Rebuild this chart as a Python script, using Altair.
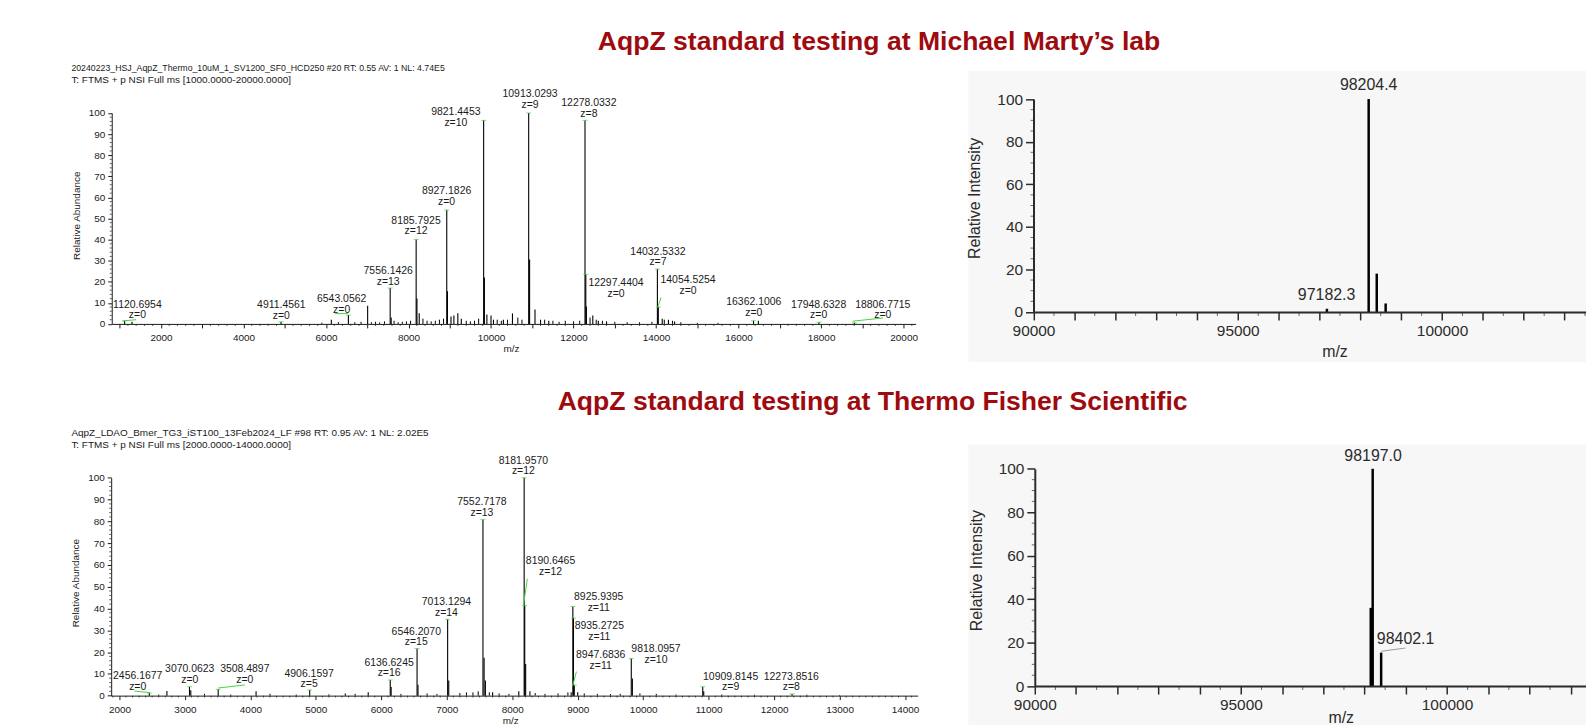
import altair as alt
import pandas as pd

FONT = "Liberation Sans"
RED = "#9e0b0f"
INK = "#1a1a1a"
GINK = "#2b2b2b"
GREEN = "#44d444"
PANEL_BG = "#f7f7f7"
W, H = 1586, 717
M = 8  # page margin

# ---------------- Top-left: native MS, Michael Marty's lab ----------------
tl_mz = [1120.7, 1300, 4911.5, 6130, 6543.1, 7010, 7556.1, 7580, 8185.8, 8205, 8260,
         8927.2, 8945, 9030, 9100, 9196, 9280, 9821.4, 9840, 9900, 10000, 10060, 10300,
         10520, 10913.0, 10935, 11066, 11200, 11400, 12278.0, 12297.4, 12312, 12467, 12600,
         12800, 14032.5, 14054.5, 14150, 14300, 14450, 16362.1, 16480, 17948.6, 18806.8]
tl_int = [1.5, 1.0, 1.0, 2.0, 4.2, 8.6, 17, 3, 40, 12, 5,
          54, 15.5, 3.5, 4, 5, 2.5, 96.5, 22, 4.5, 4, 2, 2,
          5, 100, 30.5, 6.8, 2, 1.5, 96.5, 23.5, 8.3, 4, 1.5,
          1.2, 26, 8, 2.5, 2, 1.2, 1.5, 1.5, 0.8, 0.5]
tl_noise_mz = [5900, 6300, 6700, 6850, 7100, 7200, 7300, 7420, 7650, 7750, 7850, 7950, 8050,
               8350, 8450, 8550, 8650, 8750, 8850, 9400, 9500, 9600, 9700, 10150, 10250,
               10400, 10650, 10750, 11300, 11500, 11650, 11800, 12000, 12150, 12400, 12550,
               12700, 13000, 13300, 13600, 13900, 14200, 14400, 14600, 15000, 15500]
tl_noise_int = [0.6, 0.8, 0.8, 1.0, 0.8, 1.0, 0.7, 1.2, 1.5, 0.8, 1.0, 1.2, 1.5,
                2.5, 1.5, 1.2, 1.5, 2.0, 2.5, 1.5, 1.2, 1.5, 2.5, 2.0, 1.5,
                2.0, 3.0, 2.0, 2.0, 1.5, 1.0, 1.5, 1.2, 1.5, 3.0, 2.0,
                1.5, 1.0, 0.8, 0.8, 1.0, 2.0, 1.5, 0.8, 0.5, 0.5]
tl_lab_num = ["1120.6954", "4911.4561", "6543.0562", "7556.1426", "8185.7925", "8927.1826",
              "9821.4453", "10913.0293", "12278.0332", "12297.4404", "14032.5332",
              "14054.5254", "16362.1006", "17948.6328", "18806.7715"]
tl_lab_z = ["z=0", "z=0", "z=0", "z=13", "z=12", "z=0", "z=10", "z=9", "z=8", "z=0", "z=7",
            "z=0", "z=0", "z=0", "z=0"]
tl_lab_x = [1430, 4919, 6380, 7508, 8183, 8923, 9148, 10946, 12372, 13029, 14046, 14776,
            16370, 17941, 19495]
tl_lab_y = [4.1, 3.9, 6.8, 20, 43.9, 57.9, 95.3, 104, 99.7, 14.3, 29.2, 15.6, 5.3, 4.1, 4.1]
tl_top_mz = [1120.7, 4911.5, 6543.1, 7556.1, 8185.8, 8927.2, 9821.4, 10913.0, 12278.0,
             12297.4, 14032.5, 14054.5, 16362.1, 17948.6, 18806.8]
tl_top_int = [1.5, 1.0, 4.2, 17, 40, 54, 96.5, 100, 96.5, 23.5, 26, 8, 1.5, 0.8, 0.5]
tl_lead_x1 = [1074, 6221, 14043, 18763]
tl_lead_y1 = [1.4, 4.9, 8, 1.3]
tl_lead_x2 = [1397, 6525, 14122, 19501]
tl_lead_y2 = [2.0, 4.9, 12.5, 2.8]

# ---------------- Bottom-left: native MS, Thermo Fisher ----------------
bl_mz = [2456.2, 2725, 3070.1, 3090, 3508.5, 4087, 4906.2, 5450, 5800, 6136.6, 6150,
         6546.2, 6560, 7013.1, 7030, 7552.7, 7570, 7590, 7700, 8100, 8182.0, 8190.6,
         8205, 8270, 8900, 8925.9, 8935.3, 8947.7, 9000, 9818.1, 9835, 10909.8, 10925,
         12273.9]
bl_int = [1.2, 2.1, 4.1, 2.5, 2.9, 2.0, 2.6, 1.0, 1.5, 7.2, 4,
          21.6, 5, 35, 7, 80.8, 17.4, 7, 1.5, 2, 100, 41.4,
          14.5, 2, 1.5, 40.9, 35.6, 4.8, 1.5, 17, 7.9, 4.1, 2,
          0.8]
bl_noise_mz = [2600, 3300, 3700, 4300, 4700, 5200, 5600, 6300, 6700, 6850, 7200, 7300,
               7400, 7480, 7650, 7800, 7950, 8350, 8500, 8700, 8850, 9100, 9300, 9500,
               9650, 9950, 10200, 10500, 11200, 11700, 12500, 13000]
bl_noise_int = [0.5, 0.8, 0.5, 0.8, 0.5, 0.6, 0.8, 0.8, 1.0, 0.8, 1.2, 1.5,
                1.5, 2.0, 1.5, 1.0, 0.8, 1.2, 0.8, 1.0, 1.5, 1.0, 0.8, 0.7,
                0.8, 1.0, 0.8, 0.5, 0.5, 0.4, 0.4, 0.3]
bl_lab_num = ["2456.1677", "3070.0623", "3508.4897", "4906.1597", "6136.6245", "6546.2070",
              "7013.1294", "7552.7178", "8181.9570", "8190.6465", "8925.9395", "8935.2725",
              "8947.6836", "9818.0957", "10909.8145", "12273.8516"]
bl_lab_z = ["z=0", "z=0", "z=0", "z=5", "z=16", "z=15", "z=14", "z=13", "z=12", "z=12",
            "z=11", "z=11", "z=11", "z=10", "z=9", "z=8"]
bl_lab_x = [2279, 3074, 3915, 4898, 6119, 6534, 6995, 7537, 8170, 8585, 9321, 9330, 9351,
            10196, 11336, 12263]
bl_lab_y = [4.1, 7.2, 7.2, 5.2, 10.2, 24.5, 38, 83.9, 103, 56.9, 40.3, 27.1, 13.8, 16.4,
            3.8, 3.8]
bl_top_mz = [2456.2, 3070.1, 3508.5, 4906.2, 6136.6, 6546.2, 7013.1, 7552.7, 8182.0,
             8190.6, 8925.9, 8935.3, 8947.7, 9818.1, 10909.8, 12273.9]
bl_top_int = [1.2, 4.1, 2.9, 2.6, 7.2, 21.6, 35, 80.8, 100, 41.4, 40.9, 35.6, 4.8, 17,
              4.1, 0.8]
bl_lead_x1 = [2228, 3509, 8170, 8925]
bl_lead_y1 = [2.1, 3.5, 41.4, 4.8]
bl_lead_x2 = [2466, 3915, 8231, 8980]
bl_lead_y2 = [1.4, 4.9, 53.6, 11]

# ---------------- Right panels: deconvolved masses ----------------
tr_mz = [97182.3, 98204.4, 98402, 98620]
tr_int = [1.5, 100, 18, 4]
tr_lab = ["97182.3", "98204.4"]
tr_lab_x = [97175, 98204]
tr_lab_y = [7.8, 106.4]

br_mz = [98150, 98197.0, 98402.1]
br_int = [36, 100, 15.4]
br_lab = ["98197.0", "98402.1"]
br_lab_x = [98207, 98996]
br_lab_y = [106.1, 21.5]
br_lead_x1 = [98402]
br_lead_y1 = [16]
br_lead_x2 = [98990]
br_lead_y2 = [17.5]

titles = ["AqpZ standard testing at Michael Marty\u2019s lab",
          "AqpZ standard testing at Thermo Fisher Scientific"]
tl_header = ["20240223_HSJ_AqpZ_Thermo_10uM_1_SV1200_SF0_HCD250  #20 RT: 0.55 AV: 1 NL: 4.74E5",
             "T: FTMS + p NSI Full ms [1000.0000-20000.0000]"]
bl_header = ["AqpZ_LDAO_Bmer_TG3_iST100_13Feb2024_LF  #98 RT: 0.95 AV: 1 NL: 2.02E5",
             "T: FTMS + p NSI Full ms [2000.0000-14000.0000]"]


# ---------------- layout helpers (page pixel calibration) ----------------
def xrange(d0, d1, v0, p0, k):
    return [p0 + (d0 - v0) * k - M, p0 + (d1 - v0) * k - M]


GEOM = {
    "tl": dict(xd=[808, 20290], xr=xrange(808, 20290, 2000, 161.7, 0.04147),
               yr=[323.7 - M, 111.7 - M]),
    "bl": dict(xd=[1874, 14193], xr=xrange(1874, 14193, 2000, 120.0, 0.0658),
               yr=[697.3 - M, 478.3 - M]),
    "tr": dict(xd=[90000, 103600], xr=xrange(90000, 103600, 90000, 1038.7, 0.04106),
               yr=[311.7 - M, 97.7 - M]),
    "br": dict(xd=[90000, 103600], xr=xrange(90000, 103600, 90000, 1040.0, 0.04143),
               yr=[687.7 - M, 469.3 - M]),
}


def scales(g):
    gg = GEOM[g]
    xs = alt.Scale(domain=gg["xd"], range=gg["xr"], nice=False, zero=False)
    ys = alt.Scale(domain=[0, 100], range=gg["yr"], nice=False, zero=False)
    return xs, ys


def axes(g, left):
    gg = GEOM[g]
    if left:
        xa = alt.Axis(orient="bottom", offset=gg["yr"][0] - H,
                      values=list(range(1000 if g == "tl" else 2000, gg["xd"][1] + 1, 1000)),
                      format="d",
                      labelExpr=("datum.value % 2000 === 0 ? datum.label : ''" if g == "tl"
                                 else "datum.label"),
                      grid=False, domainColor=INK, domainWidth=1, tickColor=INK, tickWidth=1,
                      tickSize=4, labelFont=FONT, labelFontSize=10, labelColor=INK,
                      labelPadding=5, labelOverlap=False, labelFlush=False, title=None, zindex=1)
        ya = alt.Axis(orient="left", offset=-gg["xr"][0], values=list(range(0, 101, 10)),
                      grid=False, domainColor=INK, domainWidth=1, tickColor=INK, tickWidth=1,
                      tickSize=4, labelFont=FONT, labelFontSize=10, labelColor=INK,
                      labelPadding=3, labelOverlap=False, title=None, zindex=1)
    else:
        xa = alt.Axis(orient="bottom", offset=gg["yr"][0] - H,
                      values=list(range(90000, 103001, 1000)), format="d",
                      labelExpr="datum.value % 5000 === 0 ? datum.label : ''",
                      grid=False, domainColor=GINK, domainWidth=2, tickColor=GINK, tickWidth=1.5,
                      tickSize=8, labelFont=FONT, labelFontSize=15.5, labelColor=GINK,
                      labelPadding=4, labelOverlap=False, labelFlush=False, title=None, zindex=1)
        ya = alt.Axis(orient="left", offset=-gg["xr"][0], values=list(range(0, 101, 20)),
                      grid=False, domainColor=GINK, domainWidth=2, tickColor=GINK, tickWidth=1.5,
                      tickSize=8, labelFont=FONT, labelFontSize=15.5, labelColor=GINK,
                      labelPadding=3, labelOverlap=False, title=None, zindex=1)
    return xa, ya


def sticks(g, mz, inten, left, color="black", sw=1.1, with_axes=False):
    xs, ys = scales(g)
    xa, ya = axes(g, left) if with_axes else (None, None)
    df = pd.DataFrame({"mz": mz, "I": inten, "zero": [0] * len(mz)})
    return alt.Chart(df).mark_rule(color=color, strokeWidth=sw).encode(
        x=alt.X("mz:Q", scale=xs, axis=xa),
        y=alt.Y("I:Q", scale=ys, axis=ya),
        y2=alt.Y2("zero:Q"),
    )


def minor_x(g, vals, size, color=INK):
    xs, ys = scales(g)
    df = pd.DataFrame({"v": vals, "zero": [0] * len(vals)})
    return alt.Chart(df).mark_tick(orient="vertical", size=size, thickness=1, color=color,
                                   yOffset=size / 2).encode(
        x=alt.X("v:Q", scale=xs, axis=None), y=alt.Y("zero:Q", scale=ys, axis=None))


def minor_y(g, vals, size, color=INK):
    xs, ys = scales(g)
    df = pd.DataFrame({"v": vals, "x0": [GEOM[g]["xd"][0]] * len(vals)})
    return alt.Chart(df).mark_tick(orient="horizontal", size=size, thickness=1, color=color,
                                   xOffset=-size / 2).encode(
        y=alt.Y("v:Q", scale=ys, axis=None), x=alt.X("x0:Q", scale=xs, axis=None))


def ms_labels(g, lx, ly, num, z):
    xs, ys = scales(g)
    df = pd.DataFrame({"x": lx, "y": ly, "n": num, "z": z})
    base = alt.Chart(df).encode(x=alt.X("x:Q", scale=xs, axis=None),
                                y=alt.Y("y:Q", scale=ys, axis=None))
    t1 = base.mark_text(font=FONT, fontSize=10.5, color=INK, baseline="middle",
                        dy=-10.7).encode(text="n:N")
    t2 = base.mark_text(font=FONT, fontSize=10.5, color=INK, baseline="middle").encode(text="z:N")
    return [t1, t2]


def tops(g, mz, inten):
    xs, ys = scales(g)
    df = pd.DataFrame({"x": mz, "y": inten})
    return alt.Chart(df).mark_tick(orient="horizontal", size=5, thickness=1, color=GREEN).encode(
        x=alt.X("x:Q", scale=xs, axis=None), y=alt.Y("y:Q", scale=ys, axis=None))


def leaders(g, x1, y1, x2, y2, color=GREEN):
    xs, ys = scales(g)
    df = pd.DataFrame({"x": x1, "y": y1, "x2": x2, "y2": y2})
    return alt.Chart(df).mark_rule(color=color, strokeWidth=1).encode(
        x=alt.X("x:Q", scale=xs, axis=None), y=alt.Y("y:Q", scale=ys, axis=None),
        x2="x2:Q", y2="y2:Q")


def right_labels(g, lx, ly, txt):
    xs, ys = scales(g)
    df = pd.DataFrame({"x": lx, "y": ly, "t": txt})
    return alt.Chart(df).mark_text(font=FONT, fontSize=16, color=GINK, baseline="middle").encode(
        x=alt.X("x:Q", scale=xs, axis=None), y=alt.Y("y:Q", scale=ys, axis=None), text="t:N")


one = pd.DataFrame({"a": [0]})


def ptext(txt, x, y, size, color=INK, weight="normal", align="center", angle=0):
    return alt.Chart(one).mark_text(text=txt, font=FONT, fontSize=size, color=color,
                                    fontWeight=weight, align=align, baseline="middle",
                                    angle=angle).encode(x=alt.value(x - M), y=alt.value(y - M))


def bg(x0, y0, x1, y1):
    return alt.Chart(one).mark_rect(color=PANEL_BG).encode(
        x=alt.value(x0 - M), x2=alt.value(x1 - M), y=alt.value(y0 - M), y2=alt.value(y1 - M))


# ---------------- layers (flat) ----------------
layers = [
    bg(973.3, 69.3, 1600, 361.7),
    bg(973.3, 445, 1600, 740),
    # top-left
    sticks("tl", tl_mz, tl_int, True, with_axes=True),
    sticks("tl", tl_noise_mz, tl_noise_int, True, sw=1),
    minor_x("tl", [v for v in range(1000, 20201, 200) if v % 1000], 2),
    minor_y("tl", [v for v in range(0, 101, 2) if v % 10], 2),
    leaders("tl", tl_lead_x1, tl_lead_y1, tl_lead_x2, tl_lead_y2),
    tops("tl", tl_top_mz, tl_top_int),
    *ms_labels("tl", tl_lab_x, tl_lab_y, tl_lab_num, tl_lab_z),
    # bottom-left
    sticks("bl", bl_mz, bl_int, True, with_axes=True),
    sticks("bl", bl_noise_mz, bl_noise_int, True, sw=1),
    minor_x("bl", [v for v in range(1900, 14101, 100) if v % 1000], 2),
    minor_y("bl", [v for v in range(0, 101, 2) if v % 10], 2),
    leaders("bl", bl_lead_x1, bl_lead_y1, bl_lead_x2, bl_lead_y2),
    tops("bl", bl_top_mz, bl_top_int),
    *ms_labels("bl", bl_lab_x, bl_lab_y, bl_lab_num, bl_lab_z),
    # top-right
    sticks("tr", tr_mz, tr_int, False, sw=2.5, with_axes=True),
    minor_x("tr", [v for v in range(90500, 103600, 1000)], 4, GINK),
    minor_y("tr", [v for v in range(5, 100, 5) if v % 20], 3, GINK),
    right_labels("tr", tr_lab_x, tr_lab_y, tr_lab),
    # bottom-right
    sticks("br", br_mz, br_int, False, sw=2.5, with_axes=True),
    minor_x("br", [v for v in range(90500, 103600, 1000)], 4, GINK),
    minor_y("br", [v for v in range(5, 100, 5) if v % 20], 3, GINK),
    leaders("br", br_lead_x1, br_lead_y1, br_lead_x2, br_lead_y2, color="#9a9a9a"),
    right_labels("br", br_lab_x, br_lab_y, br_lab),
    # texts
    ptext(titles[0], 883.5, 40.7, 26.7, RED, "bold"),
    ptext(titles[1], 877, 402.6, 26.7, RED, "bold"),
    ptext(tl_header[0], 71.7, 66.5, 8.8, INK, align="left"),
    ptext(tl_header[1], 71.7, 78.5, 10, INK, align="left"),
    ptext(bl_header[0], 71.7, 433.3, 10, INK, align="left"),
    ptext(bl_header[1], 71.7, 445.7, 10, INK, align="left"),
    ptext("Relative Abundance", 77.3, 215, 10, INK, angle=270),
    ptext("Relative Abundance", 76.7, 584.2, 10, INK, angle=270),
    ptext("m/z", 514, 348.7, 10, INK),
    ptext("m/z", 513.3, 722.5, 10, INK),
    ptext("Relative Intensity", 980, 197.5, 16, GINK, angle=270),
    ptext("Relative Intensity", 981.7, 571.7, 16, GINK, angle=270),
    ptext("m/z", 1341.7, 351.7, 16, GINK),
    ptext("m/z", 1348, 720, 16, GINK),
]

chart = alt.layer(*layers).resolve_scale(x="independent", y="independent").properties(
    width=W, height=H, padding=0, background="white",
    autosize=alt.AutoSizeParams(type="none"),
).configure_view(strokeWidth=0)

chart.save("out.html", embed_options={"renderer": "svg", "actions": False})
